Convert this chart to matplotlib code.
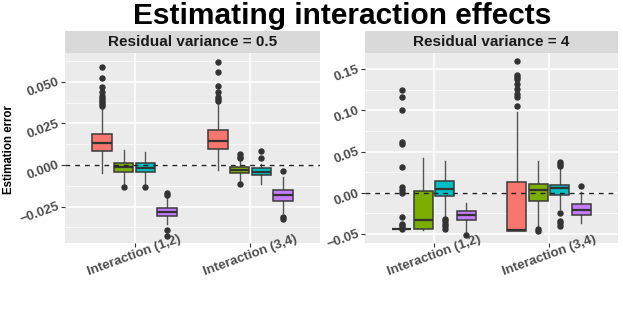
import matplotlib.pyplot as plt
import numpy as np

plt.rcParams["font.family"] = ["Liberation Sans", "DejaVu Sans"]

# categories and methods
CATS = ["Interaction (1,2)", "Interaction (3,4)"]
COLORS = ["#F8766D", "#7CAE00", "#00BFC4", "#C77CFF"]
PANELS = ["Residual variance = 0.5", "Residual variance = 4"]

# ---- Residual variance = 0.5 ----  rows: category, columns: method
med_05 = [[0.0131, -0.0014, -0.0020, -0.0282], [0.0143, -0.0028, -0.0040, -0.0181]]
q1_05 = [[0.0082, -0.0040, -0.0044, -0.0306], [0.0094, -0.0050, -0.0060, -0.0215]]
q3_05 = [[0.0187, 0.0014, 0.0010, -0.0256], [0.0213, -0.0010, -0.0016, -0.0149]]
lo_05 = [[-0.0050, -0.0114, -0.0114, -0.0357], [-0.0030, -0.0094, -0.0114, -0.0290]]
hi_05 = [[0.0343, 0.0090, 0.0080, -0.0196], [0.0377, 0.0036, 0.0006, -0.0074]]
out_05 = [
    [[0.0588, 0.0524, 0.0468, 0.0436, 0.0412, 0.0400, 0.0388, 0.0376, 0.0364, 0.0352],
     [-0.0135], [-0.0135], [-0.0171, -0.0180, -0.0391, -0.0427]],
    [[0.0618, 0.0558, 0.0474, 0.0438, 0.0408, 0.0396, 0.0384],
     [0.0066, 0.0050, 0.0042, -0.0114], [0.0086, 0.0042], [-0.0034, -0.0315, -0.0325]],
]

# ---- Residual variance = 4 ----
med_4 = [[-0.0439, -0.0333, 0.0049, -0.0272], [-0.0452, 0.0040, 0.0057, -0.0203]]
q1_4 = [[-0.0441, -0.0435, -0.0037, -0.0325], [-0.0458, -0.0105, -0.0024, -0.0267]]
q3_4 = [[-0.0437, 0.0024, 0.0142, -0.0220], [0.0130, 0.0109, 0.0101, -0.0134]]
lo_4 = [[-0.0441, -0.0447, -0.0285, -0.0476], [-0.0458, -0.0417, -0.0194, -0.0369]]
hi_4 = [[-0.0437, 0.0419, 0.0386, -0.0118], [0.0980, 0.0381, 0.0312, 0.0008]]
out_4 = [
    [[0.1244, 0.1163, 0.1000, 0.0622, 0.0593, 0.0309, 0.0073, 0.0033, 0.0000,
      -0.0293, -0.0374, -0.0394, -0.0415, -0.0435],
     [], [-0.0313, -0.0341, -0.0374, -0.0402, -0.0435], [-0.0508]],
    [[0.1596, 0.1434, 0.1405, 0.1377, 0.1324, 0.1264, 0.1203, 0.1162, 0.1053],
     [-0.0437, -0.0466], [0.0380, 0.0352, 0.0332, -0.0243, -0.0336, -0.0369, -0.0405],
     [0.0081]],
]

# axis settings for each panel
YLIMS = [(-0.0469, 0.0673), (-0.0609, 0.1698)]
YTICKS = [[-0.025, 0.0, 0.025, 0.050], [-0.05, 0.0, 0.05, 0.10, 0.15]]
YLABS = [["\u22120.025", "0.000", "0.025", "0.050"], ["\u22120.05", "0.00", "0.05", "0.10", "0.15"]]
YMINOR = [[-0.0375, -0.0125, 0.0125, 0.0375, 0.0625], [-0.025, 0.025, 0.075, 0.125]]

fig = plt.figure(figsize=(6.23, 3.12), dpi=100)
W, H = 623, 312

def px_axes(x0, y0, x1, y1):
    return fig.add_axes([x0 / W, 1 - y1 / H, (x1 - x0) / W, (y1 - y0) / H])

panel_px = [(65, 53, 320, 243), (365, 53, 618, 243)]
data = [(med_05, q1_05, q3_05, lo_05, hi_05, out_05), (med_4, q1_4, q3_4, lo_4, hi_4, out_4)]

dodge = 0.75 / 4
box_w = dodge * 0.9

for p in range(2):
    x0, y0, x1, y1 = panel_px[p]
    ax = px_axes(x0, y0, x1, y1)
    ax.set_facecolor("#EBEBEB")
    for s in ax.spines.values():
        s.set_visible(False)

    med, q1, q3, lo, hi, out = data[p]
    for c in range(len(CATS)):
        for m in range(4):
            st = dict(med=med[c][m], q1=q1[c][m], q3=q3[c][m],
                      whislo=lo[c][m], whishi=hi[c][m], fliers=out[c][m])
            pos = c + 1 + (m - 1.5) * dodge
            ax.bxp([st], positions=[pos], widths=box_w, patch_artist=True,
                   showcaps=False, manage_ticks=False,
                   boxprops=dict(facecolor=COLORS[m], edgecolor="#3a3a3a", linewidth=1.1, zorder=3),
                   medianprops=dict(color="#333333", linewidth=1.6, zorder=4),
                   whiskerprops=dict(color="#555555", linewidth=1.0, zorder=2),
                   flierprops=dict(marker="o", markersize=3.6, markerfacecolor="#333333",
                                   markeredgecolor="#333333", zorder=2))

    ax.axhline(0, color="#222222", linestyle=(0, (3.5, 3.5)), linewidth=1.0, zorder=5)

    ax.set_xlim(0.4, 2.6)
    ax.set_ylim(*YLIMS[p])
    ax.set_xticks([1, 2])
    ax.set_xticklabels(CATS, rotation=20, ha="center", va="center", rotation_mode="anchor",
                       fontsize=9.5, fontweight="bold", color="#4D4D4D")
    ax.set_yticks(YTICKS[p])
    ax.set_yticklabels(YLABS[p], rotation=20, ha="right", va="center", rotation_mode="anchor",
                       fontsize=9.5, fontweight="bold", color="#4D4D4D")
    ax.set_yticks(YMINOR[p], minor=True)
    ax.tick_params(axis="both", which="major", length=3, width=0.8, color="#333333")
    ax.tick_params(axis="x", which="major", pad=6.0)
    ax.tick_params(axis="y", which="major", pad=1.5)
    ax.tick_params(axis="y", which="minor", length=0)
    ax.grid(True, which="major", color="white", linewidth=1.1, zorder=0)
    ax.grid(True, which="minor", axis="y", color="white", linewidth=0.5, zorder=0)
    ax.set_axisbelow(True)

    # facet strip
    sax = px_axes(x0, 31, x1, y0)
    sax.set_facecolor("#D9D9D9")
    sax.set_xticks([])
    sax.set_yticks([])
    for s in sax.spines.values():
        s.set_visible(False)
    sax.text(0.5, 0.5, PANELS[p], ha="center", va="center", fontsize=11,
             fontweight="bold", color="#1A1A1A", transform=sax.transAxes)

fig.text(342 / W, 1 - 16 / H, "Estimating interaction effects", ha="center", va="center",
         fontsize=21.5, fontweight="bold", color="black")
fig.text(9 / W, 1 - 150 / H, "Estimation error", ha="center", va="center",
         rotation=90, fontsize=8.3, fontweight="bold", color="black")

fig.savefig("out.png", dpi=100)
